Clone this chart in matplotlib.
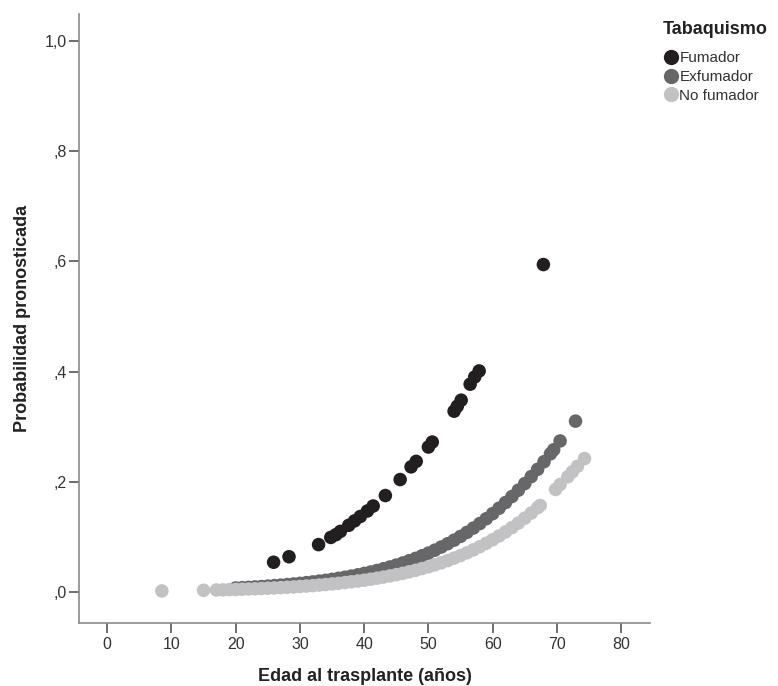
import matplotlib
matplotlib.use('Agg')
import matplotlib.pyplot as plt
from matplotlib.lines import Line2D

plt.rcParams['font.family'] = ['Liberation Sans', 'DejaVu Sans']

# Fumador (smokers)
fum_age = [25.9, 28.3, 32.9, 34.8, 35.6, 36.3, 37.6, 38.5, 39.4, 40.5, 41.4, 43.3,
           45.6, 47.3, 48.1, 50.0, 50.6, 54.0, 54.5, 55.1, 56.5, 57.2, 57.9, 67.9]
fum_p = [0.054, 0.064, 0.086, 0.099, 0.104, 0.110, 0.121, 0.129, 0.137, 0.147, 0.156, 0.175,
         0.204, 0.227, 0.237, 0.263, 0.272, 0.328, 0.337, 0.348, 0.377, 0.390, 0.401, 0.594]

# Exfumador
exf_age = [20, 21, 22, 23, 24, 25, 26, 27, 28, 29, 30, 31, 32, 33, 34, 35, 36, 37, 38, 39,
           40, 41, 42, 43, 44, 45, 46, 47, 48, 49, 50, 51, 52, 53, 54, 55, 56, 57, 58, 59,
           60, 61, 62, 63, 64, 65, 66, 67, 68, 69, 69.5, 70.5, 72.9]
exf_p = [0.0073, 0.0079, 0.0085, 0.0092, 0.0099, 0.0107, 0.0116, 0.0125, 0.0135, 0.0146,
         0.0157, 0.0170, 0.0183, 0.0198, 0.0213, 0.0230, 0.0249, 0.0268, 0.0289, 0.0312,
         0.0337, 0.0363, 0.0391, 0.0422, 0.0454, 0.0489, 0.0527, 0.0567, 0.0610, 0.0657,
         0.0706, 0.0759, 0.0816, 0.0876, 0.0940, 0.1009, 0.1082, 0.1160, 0.1242, 0.1329,
         0.1422, 0.1520, 0.1623, 0.1732, 0.1847, 0.1967, 0.2093, 0.2225, 0.2364, 0.2507,
         0.258, 0.274, 0.310]

# No fumador
nof_age = [8.5, 15, 17, 18, 19, 20, 21, 22, 23, 24, 25, 26, 27, 28, 29, 30, 31, 32, 33, 34,
           35, 36, 37, 38, 39, 40, 41, 42, 43, 44, 45, 46, 47, 48, 49, 50, 51, 52, 53, 54,
           55, 56, 57, 58, 59, 60, 61, 62, 63, 64, 65, 66, 67, 67.4,
           69.8, 70.5, 71.7, 72.4, 73.2, 74.3]
nof_p = [0.0019, 0.0031, 0.0037, 0.0039, 0.0043, 0.0046, 0.0050, 0.0054, 0.0058, 0.0063,
         0.0068, 0.0073, 0.0079, 0.0086, 0.0092, 0.0100, 0.0108, 0.0116, 0.0126, 0.0136,
         0.0147, 0.0158, 0.0171, 0.0185, 0.0199, 0.0215, 0.0232, 0.0251, 0.0271, 0.0292,
         0.0315, 0.0339, 0.0366, 0.0394, 0.0425, 0.0457, 0.0493, 0.0531, 0.0571, 0.0615,
         0.0662, 0.0711, 0.0765, 0.0822, 0.0883, 0.0948, 0.1017, 0.1090, 0.1168, 0.1251,
         0.1339, 0.1432, 0.1530, 0.157,
         0.186, 0.195, 0.209, 0.218, 0.228, 0.242]

groups = ['Fumador', 'Exfumador', 'No fumador']
colors = ['#231f20', '#67676a', '#c2c2c4']

x_ticks = [0, 10, 20, 30, 40, 50, 60, 70, 80]
y_ticks = [0.0, 0.2, 0.4, 0.6, 0.8, 1.0]
y_tick_labels = [',0', ',2', ',4', ',6', ',8', '1,0']

fig = plt.figure(figsize=(7.78, 6.86), dpi=100)
ax = fig.add_axes([0.1015, 0.092, 0.734, 0.888])

data = [(fum_age, fum_p), (exf_age, exf_p), (nof_age, nof_p)]
for (xs, ys), c in zip(data, colors):
    ax.scatter(xs, ys, s=95, color=c, edgecolors='none')

ax.set_xlim(-4.4, 84.5)
ax.set_ylim(-0.056, 1.049)
ax.set_xticks(x_ticks)
ax.set_yticks(y_ticks)
ax.set_yticklabels(y_tick_labels)

for side in ['top', 'right']:
    ax.spines[side].set_visible(False)
for side in ['left', 'bottom']:
    ax.spines[side].set_color('#8a8a8a')
    ax.spines[side].set_linewidth(1.2)
ax.tick_params(direction='out', length=7, width=1.2, color='#555555',
               labelsize=11.5, labelcolor='#333333')
ax.tick_params(axis='y', pad=1.5)
ax.tick_params(axis='x', pad=3)

ax.set_xlabel('Edad al trasplante (años)', fontsize=13, fontweight='bold',
              color='#222222', labelpad=12)
ax.set_ylabel('Probabilidad pronosticada', fontsize=13, fontweight='bold',
              color='#222222', labelpad=10)

# legend: title drawn separately so the gap below it can match
fig.text(663 / 778, 1 - 30 / 686, 'Tabaquismo', fontsize=13, fontweight='bold',
         color='#222222', ha='left', va='center')
handles = [Line2D([], [], marker='o', linestyle='none', markersize=11,
                  markerfacecolor=c, markeredgecolor='none') for c in colors]
leg = fig.legend(handles, groups, loc='upper left',
                 bbox_to_anchor=(664 / 778, 1 - 51 / 686), frameon=False, fontsize=11,
                 handlelength=0.9, handletextpad=0.1, labelspacing=0.32,
                 borderaxespad=0, borderpad=0)
for t in leg.get_texts():
    t.set_color('#333333')

fig.savefig('out.png', dpi=100)
